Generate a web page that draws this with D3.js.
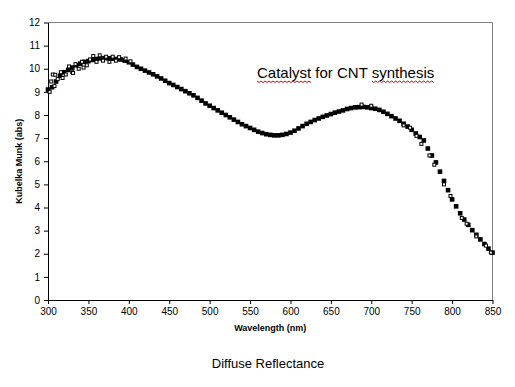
<!DOCTYPE html>
<html>
<head>
<meta charset="utf-8">
<script src="https://cdn.jsdelivr.net/npm/d3@7"></script>
<style>
  body { margin: 0; background: #fff; }
  svg { display: block; font-family: "Liberation Sans", Arial, sans-serif; }
  .axis text { font-size: 10px; fill: #000; }
  .axis path, .axis line { stroke: #000; }
</style>
</head>
<body>
<div id="chart"></div>
<script>
// wavelength grid (nm), 5 nm steps
var wavelengths = d3.range(300, 851, 5);

// Kubelka Munk values
var kmValues = [
    9.10, 9.20, 9.45, 9.70, 9.85, 9.95, 10.05, 10.15, 10.22, 10.30,
    10.33, 10.38, 10.42, 10.45, 10.46, 10.45, 10.44, 10.42, 10.40, 10.35,
    10.28, 10.18, 10.08, 10.00, 9.92, 9.84, 9.76, 9.67, 9.58, 9.48,
    9.38, 9.30, 9.21, 9.12, 9.03, 8.94, 8.85, 8.74, 8.62, 8.50,
    8.40, 8.30, 8.20, 8.10, 8.00, 7.90, 7.80, 7.70, 7.60, 7.52,
    7.44, 7.36, 7.28, 7.22, 7.17, 7.14, 7.12, 7.12, 7.14, 7.18,
    7.24, 7.32, 7.42, 7.52, 7.62, 7.70, 7.78, 7.85, 7.92, 7.98,
    8.04, 8.10, 8.15, 8.20, 8.26, 8.30, 8.33, 8.34, 8.35, 8.33,
    8.30, 8.27, 8.22, 8.14, 8.05, 7.95, 7.85, 7.75, 7.62, 7.50,
    7.36, 7.20, 7.05, 6.90, 6.55, 6.25, 5.95, 5.55, 5.15, 4.75,
    4.35, 4.05, 3.75, 3.48, 3.25, 3.02, 2.82, 2.62, 2.42, 2.22,
    2.05
];

// scattered (noisy) readings that stand off the main trace
var noiseWl = [302, 304, 306, 308, 309, 312, 316, 318, 322, 326, 330, 331, 334, 338, 342, 344,
               348, 352, 356, 360, 364, 368, 372, 376, 380, 384, 388, 396, 402,
               688, 700, 740, 748, 756, 762, 772, 778, 790, 798, 812, 818, 830, 842, 848];
var noiseKm = [9.00, 9.45, 9.75, 9.25, 9.74, 9.55, 9.85, 9.60, 9.75, 10.10, 9.85, 9.82, 10.20, 10.00, 10.30, 10.05,
               10.15, 10.40, 10.55, 10.30, 10.58, 10.35, 10.52, 10.30, 10.52, 10.35, 10.50, 10.44, 10.32,
               8.45, 8.40, 7.55, 7.45, 7.10, 6.75, 6.25, 5.85, 5.00, 4.50, 3.55, 3.30, 2.75, 2.35, 2.05];

var yTicks = d3.range(0, 13, 1);
var xTicks = d3.range(300, 851, 50);

var w = 515, h = 387;
var mLeft = 48, mRight = 492.5, mTop = 22.5, mBottom = 300;

var svg = d3.select("#chart").append("svg")
    .attr("width", w)
    .attr("height", h);

var xScale = d3.scaleLinear().domain([300, 850]).range([mLeft, mRight]);
var yScale = d3.scaleLinear().domain([0, 12]).range([mBottom, mTop]);

// gray frame top/right
svg.append("path")
    .attr("d", "M" + mLeft + "," + mTop + "H" + mRight + "V" + mBottom)
    .attr("fill", "none")
    .attr("stroke", "#808080")
    .attr("stroke-width", 1);

var xAxis = d3.axisBottom(xScale).tickValues(xTicks).tickSize(4).tickSizeOuter(0).tickPadding(4);
var yAxis = d3.axisLeft(yScale).tickValues(yTicks).tickSize(4).tickSizeOuter(0).tickPadding(4);

svg.append("g")
    .attr("class", "axis")
    .attr("transform", "translate(0," + mBottom + ")")
    .call(xAxis);

svg.append("g")
    .attr("class", "axis")
    .attr("transform", "translate(" + mLeft + ",0)")
    .call(yAxis);

// main trace
var sz = 4.6;
svg.append("g").selectAll("rect")
    .data(wavelengths)
    .enter()
    .append("rect")
    .attr("x", (d) => xScale(d) - sz / 2)
    .attr("y", (d, i) => yScale(kmValues[i]) - sz / 2)
    .attr("width", sz)
    .attr("height", sz)
    .attr("fill", "#000");

// hollow scattered points
svg.append("g").selectAll("rect")
    .data(noiseWl)
    .enter()
    .append("rect")
    .attr("x", (d) => xScale(d) - 1.5)
    .attr("y", (d, i) => yScale(noiseKm[i]) - 1.5)
    .attr("width", 3)
    .attr("height", 3)
    .attr("fill", "#fff")
    .attr("stroke", "#000")
    .attr("stroke-width", 1);

// axis titles
svg.append("text")
    .attr("x", (mLeft + mRight) / 2)
    .attr("y", 331)
    .attr("text-anchor", "middle")
    .style("font-size", "9px")
    .style("font-weight", "bold")
    .text("Wavelength (nm)");

svg.append("text")
    .attr("transform", "translate(22," + ((mTop + mBottom) / 2) + ") rotate(-90)")
    .attr("text-anchor", "middle")
    .style("font-size", "9px")
    .style("font-weight", "bold")
    .text("Kubelka Munk (abs)");

svg.append("text")
    .attr("x", 268)
    .attr("y", 368)
    .attr("text-anchor", "middle")
    .style("font-size", "13px")
    .text("Diffuse Reflectance");

// annotation with spell-check style underline
var note = svg.append("text")
    .attr("x", 257)
    .attr("y", 78)
    .style("font-size", "15px")
    .text("Catalyst for CNT synthesis");

function squiggle(x0, x1, y) {
    var pts = [];
    var k = 0;
    for (var x = x0; x <= x1; x += 2) {
        pts.push([x, y + (k % 2 === 0 ? 0 : 1.5)]);
        k++;
    }
    svg.append("path")
        .attr("d", d3.line()(pts))
        .attr("fill", "none")
        .attr("stroke", "#e00000")
        .attr("stroke-width", 1);
}
var n = note.node();
var txt = "Catalyst for CNT synthesis";
squiggle(257, 257 + n.getSubStringLength(0, 8), 81);
var sStart = 257 + n.getSubStringLength(0, txt.indexOf("synthesis"));
squiggle(sStart, sStart + n.getSubStringLength(txt.indexOf("synthesis"), 9), 81);
</script>
</body>
</html>
